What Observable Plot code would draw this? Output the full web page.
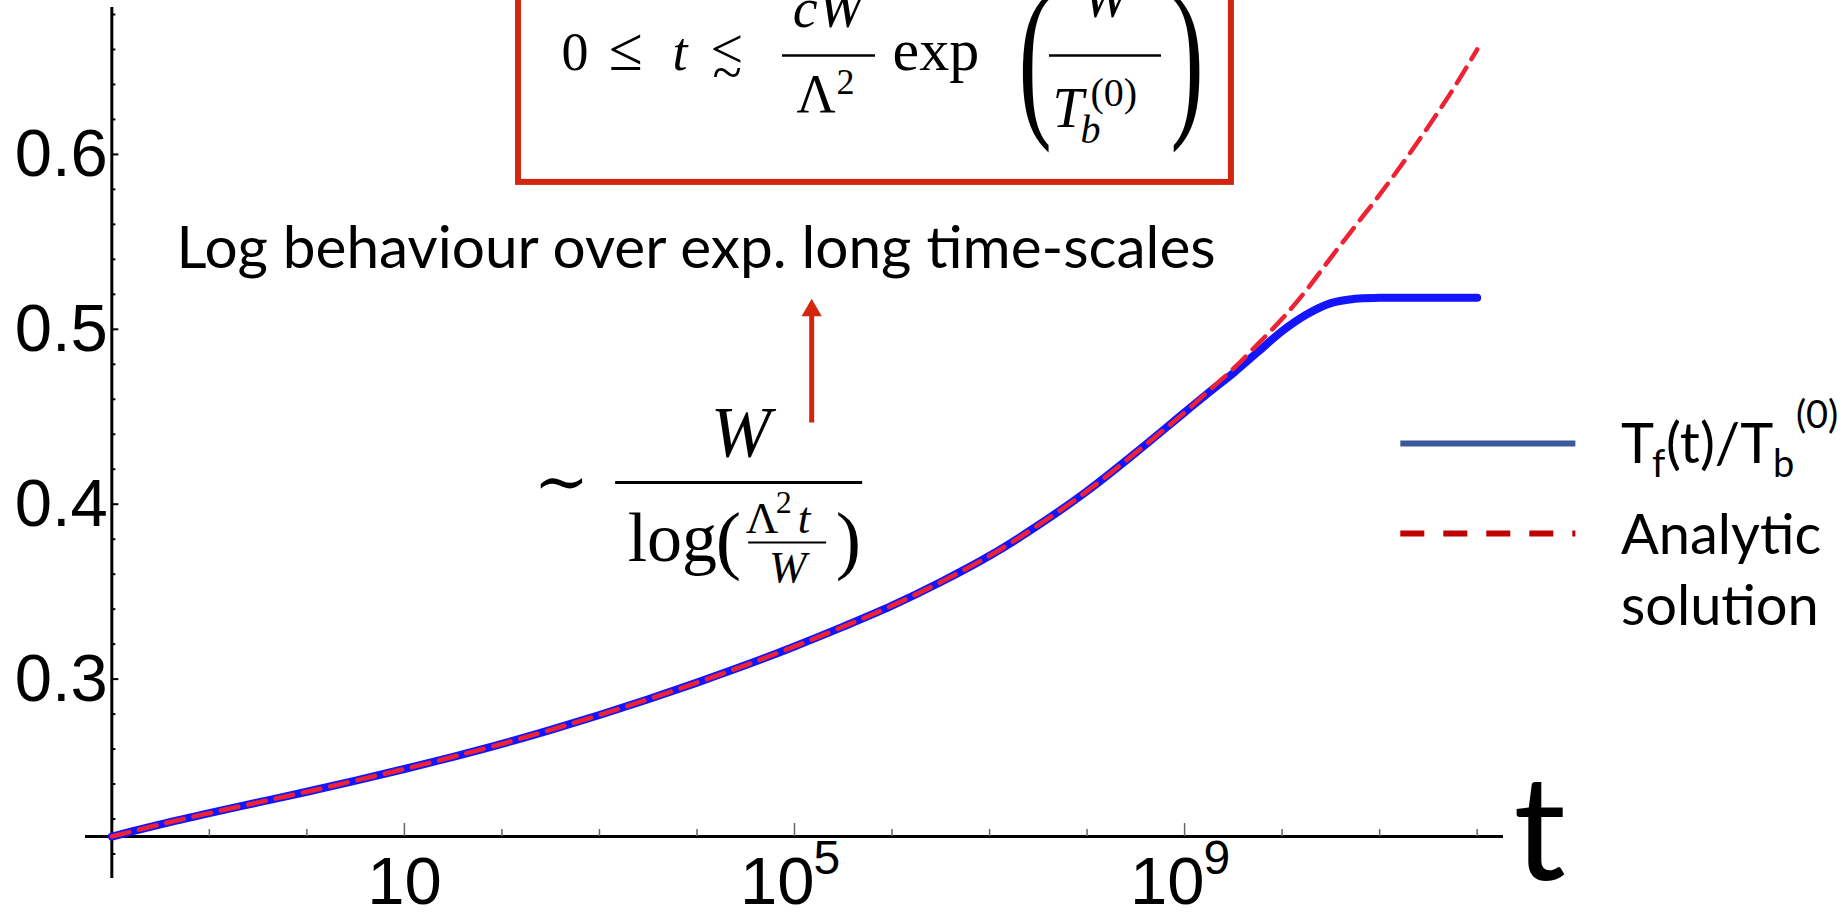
<!DOCTYPE html>
<html>
<head>
<meta charset="utf-8">
<script src="https://cdn.jsdelivr.net/npm/d3@7"></script>
<script src="https://cdn.jsdelivr.net/npm/@observablehq/plot@0.6"></script>
<style>
  html, body { margin: 0; padding: 0; background: #fff; overflow: hidden; }
</style>
</head>
<body>
<div id="chart"></div>
<script>
// ---- data -------------------------------------------------------------
// log10 of the sampled times t
const tExponents = [-2, -1.5, -1, -0.5, 0, 0.5, 1, 1.5, 2, 2.5, 3, 3.5, 4, 4.5, 5, 5.5,
  6, 6.5, 7, 7.5, 8, 8.5, 9, 9.25, 9.5, 9.75, 10, 10.25, 10.5, 10.75, 11, 11.25, 11.5, 11.75, 12];
// numerical T_f(t)/T_b^(0)
const numericRatio = [0.2100, 0.2170, 0.2234, 0.2295, 0.2356, 0.2420, 0.2486, 0.2556,
  0.2630, 0.2710, 0.2795, 0.2885, 0.2980, 0.3080, 0.3187, 0.3300, 0.3420, 0.3555,
  0.3705, 0.3880, 0.4075, 0.4295, 0.4525, 0.4640, 0.4750, 0.4870, 0.4990, 0.5085,
  0.5150, 0.5175, 0.5180, 0.5180, 0.5180, 0.5180, 0.5180];
// analytic solution ~ W / log(Λ²t/W)
const analyticRatio = [0.2100, 0.2170, 0.2234, 0.2295, 0.2356, 0.2420, 0.2486, 0.2556,
  0.2630, 0.2710, 0.2795, 0.2885, 0.2980, 0.3080, 0.3187, 0.3300, 0.3420, 0.3555,
  0.3705, 0.3880, 0.4075, 0.4295, 0.4525, 0.4650, 0.4775, 0.4915, 0.5060, 0.5225,
  0.5410, 0.5590, 0.5770, 0.5960, 0.6160, 0.6370, 0.6600];

// axes
const axisOriginT = 0.01;
const axisOriginY = 0.21;
const xLabelTicks = [10, 1e5, 1e9];
const xLabelBase = ["10", "10", "10"];
const xLabelExponent = ["", "5", "9"];
const xMinorTicks = [0.1, 1, 100, 1000, 1e4, 1e6, 1e7, 1e8, 1e10, 1e11, 1e12];
const yLabelTicks = [0.3, 0.4, 0.5, 0.6];
const yLabels = ["0.3", "0.4", "0.5", "0.6"];
const yMinorTicks = [0.20, 0.22, 0.24, 0.26, 0.28, 0.32, 0.34, 0.36, 0.38, 0.42, 0.44,
  0.46, 0.48, 0.52, 0.54, 0.56, 0.58, 0.62, 0.64, 0.66, 0.68];

const legendLines = ["Analytic", "solution"];

// ---- layout -----------------------------------------------------------
const width = 1847, height = 913;
const margin = {top: 7, right: 344, bottom: 35, left: 85};
const xDomain = [10 ** -2.27, 10 ** 12.27];
const yDomain = [0.186, 0.684];
const decadePx = (width - margin.left - margin.right) / (Math.log10(xDomain[1]) - Math.log10(xDomain[0]));
const unitPx = (height - margin.top - margin.bottom) / (yDomain[1] - yDomain[0]);
const tShift = (t, px) => t * 10 ** (px / decadePx);   // move right by px
const yShift = (y, px) => y - px / unitPx;             // move down by px

const numeric = tExponents.map((e, i) => ({t: 10 ** e, v: numericRatio[i]}));
const analytic = tExponents.map((e, i) => ({t: 10 ** e, v: analyticRatio[i]}));

const SANS = "Liberation Sans, Arial, sans-serif";
const CAL = "Lato, 'Open Sans', sans-serif";
const SERIF = "Liberation Serif, 'Times New Roman', serif";
const RED = "#d2260e";

// a piece of typeset text placed relative to an anchor
function piece(anchor, p) {
  return Plot.text([p.text], {
    x: anchor.t, y: anchor.y, text: d => d,
    dx: p.dx, dy: p.dy, lineAnchor: "bottom",
    textAnchor: p.anchor || "start",
    fontSize: p.size, fontFamily: p.font || SERIF,
    fontStyle: p.italic ? "italic" : "normal",
    ariaLabel: () => (p.stretch ? "delimiter" : "math"),
    fill: "black"
  });
}
function bar(anchor, x0, x1, dy, w) {
  return Plot.ruleY([yShift(anchor.y, dy)], {
    x1: tShift(anchor.t, x0), x2: tShift(anchor.t, x1),
    stroke: "black", strokeWidth: w
  });
}

// bounded-time formula inside the red box (anchor: lower-left box corner)
const boxCorner = {t: 10 ** 2.17, y: 0.584};
const boxFormula = [
  {text: "0", dx: 43, dy: -112, size: 54},
  {text: "≤", dx: 90, dy: -112, size: 62},
  {text: "t", dx: 154, dy: -112, size: 54, italic: true},
  {text: "<", dx: 192, dy: -114, size: 58},
  {text: "~", dx: 194, dy: -91, size: 54},
  {text: "cW", dx: 310, dy: -155, size: 56, italic: true, anchor: "middle"},
  {text: "Λ", dx: 278, dy: -70, size: 54},
  {text: "2", dx: 318, dy: -88, size: 36},
  {text: "exp", dx: 374, dy: -112, size: 60},
  {text: "(", dx: 500, dy: -93, size: 100, stretch: true},
  {text: "W", dx: 587, dy: -165, size: 56, italic: true, anchor: "middle"},
  {text: "T", dx: 534, dy: -55, size: 56, italic: true},
  {text: "b", dx: 562, dy: -39, size: 40, italic: true},
  {text: "(0)", dx: 572, dy: -76, size: 40},
  {text: ")", dx: 652, dy: -93, size: 100, stretch: true}
];

// asymptotic form (anchor: left end of the main fraction bar)
const fracAnchor = {t: 10 ** 3.166, y: 0.4124};
const asymFormula = [
  {text: "∼", dx: -82, dy: 21, size: 66, font: "DejaVu Serif"},
  {text: "W", dx: 125, dy: -27, size: 72, italic: true, anchor: "middle"},
  {text: "log", dx: 12, dy: 78, size: 70},
  {text: "(", dx: 100, dy: 82, size: 76},
  {text: "Λ", dx: 130, dy: 50, size: 45},
  {text: "2", dx: 160, dy: 30, size: 32},
  {text: "t", dx: 182, dy: 50, size: 45, italic: true},
  {text: "W", dx: 172, dy: 99, size: 45, italic: true, anchor: "middle"},
  {text: ")", dx: 220, dy: 82, size: 76}
];

// legend (anchor: first legend entry text)
const legendT = 10 ** 13.474;
const legendLineT = [10 ** 11.217, 10 ** 13.012];
const legendY = [0.4347, 0.3833];
const legendAnchor = {t: legendT, y: 0.4233};
const legendLabel = [
  {text: "T", dx: 0, dy: 0, size: 56, font: CAL},
  {text: "f", dx: 31, dy: 14, size: 38, font: CAL},
  {text: "(t)/T", dx: 45, dy: 0, size: 56, font: CAL},
  {text: "b", dx: 152, dy: 14, size: 38, font: CAL},
  {text: "(0)", dx: 175, dy: -35, size: 38, font: CAL}
];

const arrowT = 1.5e5;

const plot = Plot.plot({
  width, height,
  marginTop: margin.top, marginRight: margin.right,
  marginBottom: margin.bottom, marginLeft: margin.left,
  style: {background: "white", overflow: "visible"},
  x: {type: "log", domain: xDomain, axis: null},
  y: {domain: yDomain, axis: null},
  marks: [
    // axes crossing at (0.01, 0.21)
    Plot.ruleY([axisOriginY], {stroke: "black", strokeWidth: 3}),
    Plot.ruleX([axisOriginT], {stroke: "black", strokeWidth: 3}),
    Plot.ruleX(xMinorTicks, {y1: axisOriginY, y2: yShift(axisOriginY, -7), stroke: "#666", strokeWidth: 1.5}),
    Plot.ruleX(xLabelTicks, {y1: axisOriginY, y2: yShift(axisOriginY, -13), stroke: "#666", strokeWidth: 1.5}),
    Plot.ruleY(yMinorTicks, {x1: axisOriginT, x2: tShift(axisOriginT, 4), stroke: "black", strokeWidth: 2}),
    Plot.ruleY(yLabelTicks, {x1: axisOriginT, x2: tShift(axisOriginT, 7), stroke: "black", strokeWidth: 2}),
    Plot.text(yLabelTicks, {x: axisOriginT, y: d => d, text: (d, i) => yLabels[i],
      textAnchor: "end", dx: -4, fontSize: 67, fontFamily: SANS, fill: "black"}),
    Plot.text(xLabelTicks.filter((d, i) => !xLabelExponent[i]), {x: d => d, y: axisOriginY,
      text: d => xLabelBase[xLabelTicks.indexOf(d)], textAnchor: "middle", lineAnchor: "bottom",
      dy: 67, fontSize: 67, fontFamily: SANS, fill: "black"}),
    Plot.text(xLabelTicks.filter((d, i) => xLabelExponent[i]), {x: d => d, y: axisOriginY,
      text: d => xLabelBase[xLabelTicks.indexOf(d)], textAnchor: "end", lineAnchor: "bottom",
      dx: 20, dy: 67, fontSize: 67, fontFamily: SANS, fill: "black"}),
    Plot.text(xLabelTicks.filter((d, i) => xLabelExponent[i]), {x: d => d, y: axisOriginY,
      text: d => xLabelExponent[xLabelTicks.indexOf(d)], textAnchor: "start", lineAnchor: "bottom",
      dx: 19, dy: 37, fontSize: 48, fontFamily: SANS, fill: "black"}),
    Plot.text(["t"], {x: xDomain[1], y: axisOriginY, text: d => d, textAnchor: "start",
      lineAnchor: "bottom", dx: 10, dy: 43, fontSize: 146, fontFamily: CAL, fill: "black"}),

    // curves
    Plot.line(numeric, {x: "t", y: "v", stroke: "#1414ff", strokeWidth: 8, curve: "catmull-rom"}),
    Plot.line(analytic, {x: "t", y: "v", stroke: "#ee2233", strokeWidth: 4.5,
      strokeDasharray: "18,10", curve: "catmull-rom"}),

    // bounded-time box
    Plot.rect([boxCorner], {x1: boxCorner.t, x2: 10 ** 9.48, y1: boxCorner.y, y2: 0.72,
      fill: "none", stroke: RED, strokeWidth: 6}),
    ...boxFormula.map(p => piece(boxCorner, p)),
    bar(boxCorner, 264, 357, -127, 2.5),
    bar(boxCorner, 531, 643, -127, 2.5),

    // annotation text and arrow
    Plot.text(["Log behaviour over exp. long time-scales"], {x: 10 ** -1.337, y: 0.5348,
      text: d => d, textAnchor: "start", lineAnchor: "bottom", fontSize: 58.5, fontFamily: CAL, fill: "black"}),
    Plot.link([arrowT], {x1: arrowT, x2: arrowT, y1: 0.4467, y2: 0.5108, stroke: RED, strokeWidth: 5}),
    Plot.dot([arrowT], {x: arrowT, y: 0.5108, symbol: "triangle", r: 7.5, fill: RED, stroke: "none"}),

    // asymptotic formula
    ...asymFormula.map(p => piece(fracAnchor, p)),
    bar(fracAnchor, 0, 247, 0, 3),
    bar(fracAnchor, 133, 211, 60, 2),

    // legend
    Plot.ruleY([legendY[0]], {x1: legendLineT[0], x2: legendLineT[1], stroke: "#3b5a9b", strokeWidth: 6}),
    Plot.ruleY([legendY[1]], {x1: legendLineT[0], x2: legendLineT[1], stroke: "#c00000", strokeWidth: 6,
      strokeDasharray: "24,19"}),
    ...legendLabel.map(p => piece(legendAnchor, p)),
    Plot.text(legendLines, {x: legendT, y: (d, i) => [0.3713, 0.3307][i], text: d => d,
      textAnchor: "start", lineAnchor: "bottom", fontSize: 56, fontFamily: CAL, fill: "black"})
  ]
});

document.getElementById("chart").appendChild(plot);

// stretch the large delimiters vertically (thin strokes, tall glyphs)
plot.querySelectorAll('text[aria-label="delimiter"]').forEach(el => {
  const b = el.getBBox();
  const cx = b.x + b.width / 2, cy = b.y + b.height / 2;
  const prev = el.getAttribute("transform") || "";
  el.setAttribute("transform", `${prev} translate(${cx},${cy}) scale(1,1.75) translate(${-cx},${-cy})`);
});
</script>
</body>
</html>
